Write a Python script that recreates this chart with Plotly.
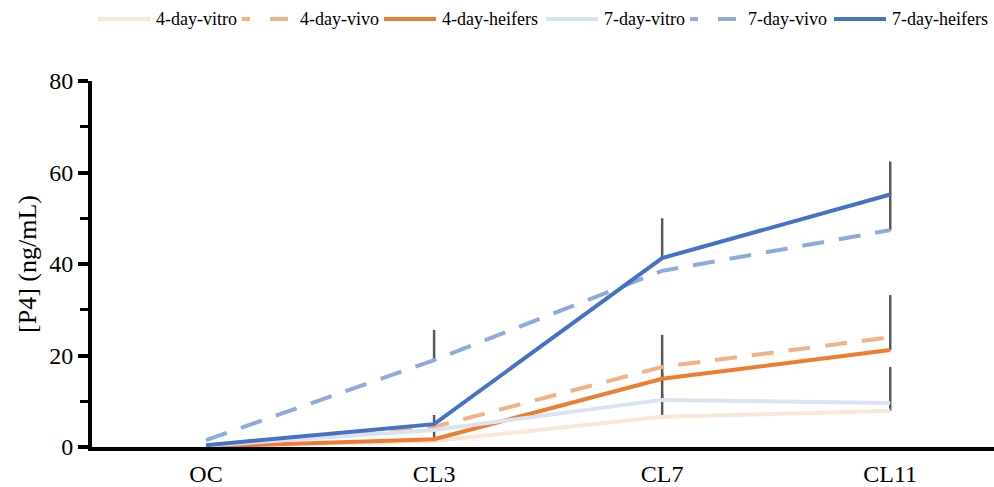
import plotly.graph_objects as go

# Sampling days
categories = ["OC", "CL3", "CL7", "CL11"]

# Mean P4 concentration (ng/mL) per group
vitro_4d = [0.2, 1.3, 6.6, 7.9]
vivo_4d = [0.3, 4.4, 17.5, 24.0]
heifers_4d = [0.1, 1.7, 14.9, 21.2]
vitro_7d = [0.3, 3.7, 10.3, 9.6]
vivo_7d = [1.5, 19.0, 38.5, 47.4]
heifers_7d = [0.4, 5.0, 41.3, 55.2]

# Upper error (ng/mL) per group
vitro_4d_err = [0, 0, 5.0, 9.6]
vivo_4d_err = [0, 0, 0, 0]
heifers_4d_err = [0, 5.3, 9.6, 12.0]
vitro_7d_err = [0, 0, 6.0, 0]
vivo_7d_err = [0, 6.6, 0, 8.0]
heifers_7d_err = [0, 0, 8.7, 7.2]

DASH = "22px,15px"
series = [
    ("4-day-vitro", vitro_4d, vitro_4d_err, "#FBE5D6", "solid"),
    ("4-day-vivo", vivo_4d, vivo_4d_err, "#F4B183", DASH),
    ("4-day-heifers", heifers_4d, heifers_4d_err, "#ED7D31", "solid"),
    ("7-day-vitro", vitro_7d, vitro_7d_err, "#DAE3F3", "solid"),
    ("7-day-vivo", vivo_7d, vivo_7d_err, "#8FAADC", DASH),
    ("7-day-heifers", heifers_7d, heifers_7d_err, "#4472C4", "solid"),
]

W, H = 994, 487
ML, MT, MB = 92, 81, 40
PW, PH = W - ML, H - MT - MB

fig = go.Figure()

# Error whiskers first so the lines sit on top of them
for name, vals, err, color, dash in series:
    if any(err):
        fig.add_trace(go.Scatter(
            x=categories, y=vals, mode="markers",
            marker=dict(size=1, opacity=0),
            error_y=dict(type="data", array=err, arrayminus=[0] * len(err),
                         symmetric=False, color="#595959", thickness=2.5, width=0),
            showlegend=False, hoverinfo="skip",
        ))

for name, vals, err, color, dash in series:
    fig.add_trace(go.Scatter(
        x=categories, y=vals, mode="lines", name=name,
        line=dict(color=color, width=4, dash=dash),
        showlegend=False,
    ))

serif = "Liberation Serif, Times New Roman, serif"

# Legend row across the top, drawn as line samples plus labels
legend_x = [98, 242, 384, 546, 690, 834]
legend_y = 19
sample_len = 52
shapes, annotations = [], []
for (name, vals, err, color, dash), x0 in zip(series, legend_x):
    px = lambda v: (v - ML) / PW
    py = (H - MB - legend_y) / PH
    sample_dash = "solid" if dash == "solid" else "8px,20px,18px,40px"
    shapes.append(dict(type="line", xref="paper", yref="paper",
                       x0=px(x0), x1=px(x0 + sample_len), y0=py, y1=py,
                       line=dict(color=color, width=4, dash=sample_dash)))
    annotations.append(dict(xref="paper", yref="paper", x=px(x0 + sample_len + 4), y=py,
                            xanchor="left", yanchor="middle", showarrow=False,
                            text=name, font=dict(family=serif, size=18, color="black")))

fig.update_layout(
    width=W, height=H,
    margin=dict(l=ML, r=0, t=MT, b=MB, autoexpand=False),
    paper_bgcolor="white", plot_bgcolor="white",
    font=dict(family=serif, color="black", size=25),
    showlegend=False,
    shapes=shapes,
    annotations=annotations,
    xaxis=dict(
        type="category", range=[-0.5, 3.455], automargin=False,
        showline=True, linecolor="black", linewidth=4,
        ticks="outside", ticklen=2, tickcolor="rgba(0,0,0,0)",
        showgrid=False, zeroline=False,
        tickfont=dict(family=serif, size=24, color="black"),
    ),
    yaxis=dict(
        range=[0, 80], dtick=20, automargin=False,
        showline=True, linecolor="black", linewidth=4,
        ticks="outside", ticklen=10, tickwidth=4, tickcolor="black",
        minor=dict(dtick=10, ticks="outside", ticklen=8, tickwidth=3, tickcolor="black"),
        showgrid=False, zeroline=False,
        title=dict(text="[P4] (ng/mL)", font=dict(family=serif, size=26, color="black"), standoff=6),
        tickfont=dict(family=serif, size=24, color="black"),
    ),
)

fig.write_html("out.html")
